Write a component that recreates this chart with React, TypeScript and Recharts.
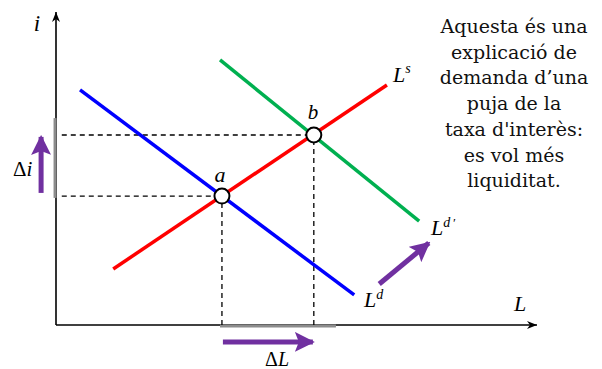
import { ComposedChart, Line, XAxis, YAxis, ReferenceLine, Scatter, Customized } from 'recharts'

// data space: 0..100 on both axes
const supplyX = [11.9, 68.8]
const supplyY = [17.9, 76.7]
const demandX = [5, 62]
const demandY = [75.1, 9.6]
const shiftedX = [34.1, 75.5]
const shiftedY = [84.7, 33.2]
const eqX = [34.5, 53.6]
const eqY = [41.2, 60.7]

const NOTE = [
  'Aquesta és una',
  'explicació de',
  'demanda d\u2019una',
  'puja de la',
  "taxa d'interès:",
  'es vol més',
  'liquiditat.',
]

const toPts = (xs: number[], ys: number[]) => xs.map((x, i) => ({ x, y: ys[i] }))

const supply = toPts(supplyX, supplyY)
const demand = toPts(demandX, demandY)
const shifted = toPts(shiftedX, shiftedY)
const equilibria = toPts(eqX, eqY)

const PURPLE = '#7030a0'
const SERIF = '"DejaVu Serif", "Liberation Serif", serif'
const MATH = '"Liberation Serif", "DejaVu Serif", serif'

const Defs = () => (
  <defs>
    <marker id="axisHead" viewBox="0 0 10 10" refX="10" refY="5" markerWidth="10" markerHeight="10" markerUnits="userSpaceOnUse" orient="auto">
      <path d="M0,1 L10,5 L0,9 L3,5 Z" fill="#000" />
    </marker>
    <marker id="purpleHead" viewBox="0 0 10 10" refX="9" refY="5" markerWidth="4" markerHeight="4" orient="auto">
      <path d="M0,0 L10,5 L0,10 L2,5 Z" fill={PURPLE} />
    </marker>
  </defs>
)

const Labels = () => (
  <g>
    <text x={37} y={31} fontFamily={MATH} fontStyle="italic" fontSize={23} textAnchor="middle">i</text>
    <text x={13} y={176} fontFamily={MATH} fontSize={21}>
      Δ<tspan fontStyle="italic">i</tspan>
    </text>
    <text x={220} y={182} fontFamily={MATH} fontStyle="italic" fontSize={22} textAnchor="middle">a</text>
    <text x={313} y={119} fontFamily={MATH} fontStyle="italic" fontSize={21} textAnchor="middle">b</text>
    <text x={393} y={82} fontFamily={MATH} fontStyle="italic" fontSize={22}>
      L<tspan fontSize={14} dy={-9}>s</tspan>
    </text>
    <text x={364} y={307} fontFamily={MATH} fontStyle="italic" fontSize={22}>
      L<tspan fontSize={14} dy={-8}>d</tspan>
    </text>
    <text x={431} y={235} fontFamily={MATH} fontStyle="italic" fontSize={22}>
      L<tspan fontSize={14} dy={-8}>d</tspan><tspan fontSize={13} dx={2}>′</tspan>
    </text>
    <text x={514} y={311} fontFamily={MATH} fontStyle="italic" fontSize={22}>L</text>
    <text x={265} y={366} fontFamily={MATH} fontSize={20}>
      Δ<tspan fontStyle="italic">L</tspan>
    </text>
    {NOTE.map((line, i) => (
      <text key={i} x={514} y={33 + i * 25.7} fontFamily={SERIF} fontSize={19} textAnchor="middle" fill="#111">
        {line}
      </text>
    ))}
  </g>
)

const Ring = (props: any) => (
  <circle cx={props.cx} cy={props.cy} r={7.5} fill="#fff" stroke="#000" strokeWidth={2} />
)

export default function App() {
  return (
    <div style={{ position: 'absolute', left: 0, top: 0, background: '#fff' }}>
      <ComposedChart width={602} height={369} margin={{ top: 12, right: 65, bottom: 44, left: 56 }}>
        <Customized component={Defs} />
        <XAxis type="number" dataKey="x" domain={[0, 100]} hide allowDataOverflow />
        <YAxis type="number" dataKey="y" domain={[0, 100]} hide allowDataOverflow />

        {/* axes */}
        <ReferenceLine segment={[{ x: 0, y: 0 }, { x: 100, y: 0 }]} stroke="#000" strokeWidth={1.6} markerEnd="url(#axisHead)" ifOverflow="visible" />
        <ReferenceLine segment={[{ x: 0, y: 0 }, { x: 0, y: 100 }]} stroke="#000" strokeWidth={1.6} markerEnd="url(#axisHead)" ifOverflow="visible" />

        {/* changes highlighted on the axes */}
        <ReferenceLine segment={[{ x: -0.2, y: 40.6 }, { x: -0.2, y: 66.1 }]} stroke="#8c8c8c" strokeWidth={3} ifOverflow="visible" />
        <ReferenceLine segment={[{ x: 34.1, y: -0.3 }, { x: 58.2, y: -0.3 }]} stroke="#8c8c8c" strokeWidth={3} ifOverflow="visible" />

        {/* guides */}
        <ReferenceLine segment={[{ x: 1.2, y: eqY[0] }, { x: eqX[0], y: eqY[0] }]} stroke="#000" strokeDasharray="5 4" strokeWidth={1.3} />
        <ReferenceLine segment={[{ x: 1.2, y: eqY[1] }, { x: eqX[1], y: eqY[1] }]} stroke="#000" strokeDasharray="5 4" strokeWidth={1.3} />
        <ReferenceLine segment={[{ x: eqX[0], y: 0 }, { x: eqX[0], y: eqY[0] }]} stroke="#000" strokeDasharray="5 4" strokeWidth={1.3} />
        <ReferenceLine segment={[{ x: eqX[1], y: 0 }, { x: eqX[1], y: eqY[1] }]} stroke="#000" strokeDasharray="5 4" strokeWidth={1.3} />

        <Line data={demand} dataKey="y" stroke="#0000ff" strokeWidth={3.5} dot={false} isAnimationActive={false} />
        <Line data={shifted} dataKey="y" stroke="#00b050" strokeWidth={3.5} dot={false} isAnimationActive={false} />
        <Line data={supply} dataKey="y" stroke="#ff0000" strokeWidth={3.5} dot={false} isAnimationActive={false} />
        <Scatter data={equilibria} dataKey="y" shape={Ring} isAnimationActive={false} />

        {/* shift arrows */}
        <ReferenceLine segment={[{ x: -3.1, y: 42.2 }, { x: -3.1, y: 60.1 }]} stroke={PURPLE} strokeWidth={5} markerEnd="url(#purpleHead)" ifOverflow="visible" />
        <ReferenceLine segment={[{ x: 34.7, y: -5.4 }, { x: 53.4, y: -5.4 }]} stroke={PURPLE} strokeWidth={5} markerEnd="url(#purpleHead)" ifOverflow="visible" />
        <ReferenceLine segment={[{ x: 67.2, y: 13.1 }, { x: 77.5, y: 26.2 }]} stroke={PURPLE} strokeWidth={5} markerEnd="url(#purpleHead)" ifOverflow="visible" />

        <Customized component={Labels} />
      </ComposedChart>
    </div>
  )
}
